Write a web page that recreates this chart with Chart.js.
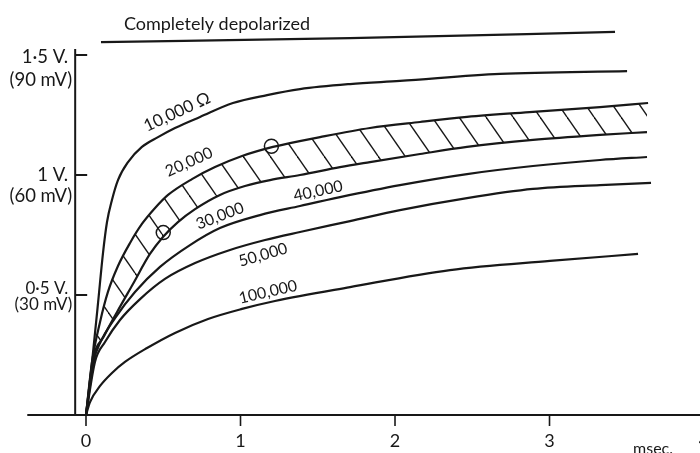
<!DOCTYPE html>
<html>
<head>
<meta charset="utf-8">
<script src="https://cdn.jsdelivr.net/npm/chart.js@4.4.1/dist/chart.umd.min.js"></script>
<style>
  html, body { margin: 0; padding: 0; background: #fff; }
  #wrap { width: 700px; height: 453px; position: relative; }
</style>
</head>
<body>
<div id="wrap"><canvas id="chartPolar"></canvas></div>
<script>
// Membrane potential vs time for different series resistances
const xTicks = [0, 1, 2, 3, 4];
const yTicks = [0.5, 1, 1.5];
const yTickVolt = ['0·5 V.', '1 V.', '1·5 V.'];
const yTickMilli = ['(30 mV)', '(60 mV)', '(90 mV)'];
const xUnit = 'msec.';

const curveNames = ['Completely depolarized', '10,000 Ω', '20,000', '30,000', '40,000', '50,000', '100,000'];

// [msec, volts]
const depolarized = [[0.097, 1.554], [1.709, 1.570], [3.424, 1.596]];
const r10k = [[0, 0], [0.019, 0.104], [0.045, 0.258], [0.078, 0.467], [0.110, 0.675], [0.136, 0.804],
  [0.168, 0.896], [0.207, 0.979], [0.272, 1.054], [0.362, 1.117], [0.466, 1.158], [0.576, 1.196],
  [0.738, 1.242], [0.951, 1.300], [1.172, 1.333], [1.385, 1.358], [1.709, 1.379], [2.032, 1.392],
  [2.680, 1.421], [3.502, 1.433]];
const r20k = [[0, 0], [0.039, 0.221], [0.091, 0.388], [0.142, 0.513], [0.207, 0.621], [0.285, 0.717],
  [0.362, 0.796], [0.447, 0.8625], [0.531, 0.917], [0.686, 0.983], [0.835, 1.033], [1.010, 1.079],
  [1.210, 1.117], [1.515, 1.158], [1.838, 1.196], [2.162, 1.221], [2.466, 1.242], [2.893, 1.263],
  [3.327, 1.283], [3.638, 1.300]];
const r30k = [[0, 0], [0.045, 0.229], [0.117, 0.329], [0.201, 0.429], [0.304, 0.546], [0.414, 0.671],
  [0.498, 0.742], [0.595, 0.804], [0.706, 0.858], [0.867, 0.917], [1.029, 0.954], [1.191, 0.979],
  [1.385, 1.0], [1.644, 1.033], [1.838, 1.054], [2.162, 1.0875], [2.466, 1.117], [2.893, 1.146],
  [3.327, 1.167], [3.631, 1.179]];
const r40k = [[0, 0], [0.052, 0.229], [0.091, 0.300], [0.188, 0.404], [0.317, 0.5125], [0.479, 0.617],
  [0.673, 0.708], [0.867, 0.779], [1.126, 0.833], [1.385, 0.871], [1.644, 0.908], [2.032, 0.958],
  [2.466, 1.004], [2.893, 1.0375], [3.327, 1.0625], [3.631, 1.075]];
const r50k = [[0, 0], [0.058, 0.221], [0.123, 0.304], [0.220, 0.396], [0.350, 0.483], [0.511, 0.567],
  [0.706, 0.633], [0.932, 0.6875], [1.159, 0.729], [1.385, 0.7625], [1.709, 0.808], [2.032, 0.854],
  [2.466, 0.904], [2.893, 0.942], [3.327, 0.958], [3.657, 0.967]];
const r100k = [[0, 0], [0.026, 0.054], [0.091, 0.121], [0.168, 0.175], [0.252, 0.221], [0.395, 0.279],
  [0.576, 0.342], [0.790, 0.400], [1.010, 0.442], [1.223, 0.475], [1.709, 0.533], [2.356, 0.604],
  [3.003, 0.642], [3.573, 0.671]];
const measured = [[0.5, 0.76], [1.2, 1.12]];

const INK = '#181818';
const FONT = 'Lato, "Open Sans", sans-serif';

const toXY = arr => arr.map(([x, y]) => ({ x, y }));

// diagonal hatching for the band between 20,000 and 30,000
function hatchPattern(ctx) {
  const tile = document.createElement('canvas');
  tile.width = 27; tile.height = 39;
  const c = tile.getContext('2d');
  c.strokeStyle = INK;
  c.lineWidth = 1.4;
  [-27, 0, 27].forEach(dx => {
    c.beginPath();
    c.moveTo(dx, 0);
    c.lineTo(dx + 27, 39);
    c.stroke();
  });
  return ctx.createPattern(tile, 'repeat');
}

function curve(data, extra) {
  return Object.assign({
    data: toXY(data),
    borderColor: INK,
    borderWidth: 2.2,
    pointRadius: 0,
    fill: false,
    cubicInterpolationMode: 'monotone'
  }, extra || {});
}

// where each curve name sits: [msec, volts, rotation deg, font px]
const labelSpots = [
  [0.848, 1.629, 0, 18],
  [0.589, 1.2625, -25, 17],
  [0.667, 1.054, -24, 16],
  [0.867, 0.829, -21, 16],
  [1.502, 0.933, -12, 16],
  [1.146, 0.667, -16, 16],
  [1.178, 0.5125, -13, 16]
];

const figureAxes = {
  id: 'figureAxes',
  afterDatasetsDraw(chart) {
    const { ctx, chartArea } = chart;
    const xs = chart.scales.x, ys = chart.scales.y;
    const px = v => xs.getPixelForValue(v);
    const py = v => ys.getPixelForValue(v);
    const yAxisAt = -0.07;

    ctx.save();
    ctx.strokeStyle = INK;
    ctx.fillStyle = INK;
    ctx.lineCap = 'butt';

    // axis lines
    ctx.lineWidth = 2;
    ctx.beginPath();
    ctx.moveTo(px(-0.38), py(0));
    ctx.lineTo(chartArea.right, py(0));
    ctx.moveTo(px(yAxisAt), py(1.525));
    ctx.lineTo(px(yAxisAt), py(0));
    ctx.stroke();

    // y ticks point inwards
    yTicks.forEach(v => {
      ctx.beginPath();
      ctx.moveTo(px(yAxisAt), py(v));
      ctx.lineTo(px(yAxisAt) + 12, py(v));
      ctx.stroke();
    });

    // x ticks hang below the axis
    ctx.lineWidth = 1.6;
    xTicks.forEach(v => {
      ctx.beginPath();
      ctx.moveTo(px(v), py(0));
      ctx.lineTo(px(v), py(0) + 11);
      ctx.stroke();
    });

    ctx.textAlign = 'center';
    ctx.textBaseline = 'middle';
    ctx.font = '18px ' + FONT;
    xTicks.forEach(v => ctx.fillText(String(v), px(v), py(0) + 26));

    ctx.font = '16px ' + FONT;
    ctx.textBaseline = 'alphabetic';
    ctx.fillText(xUnit, px(3.67), py(0) + 39);

    // two-line voltage labels, right aligned against the axis
    const lineOffsets = [[-6, 10], [0, 21], [2, 25]];
    const sizes = [17, 18.5, 18.5];
    ctx.textAlign = 'right';
    ctx.textBaseline = 'middle';
    yTicks.forEach((v, i) => {
      ctx.font = sizes[i] + 'px ' + FONT;
      ctx.fillText(yTickVolt[i], px(yAxisAt) - 7, py(v) + lineOffsets[i][0]);
      ctx.fillText(yTickMilli[i], px(yAxisAt) - 3, py(v) + lineOffsets[i][1]);
    });

    // curve names
    ctx.textAlign = 'center';
    curveNames.forEach((name, i) => {
      const [t, v, rot, size] = labelSpots[i];
      ctx.save();
      ctx.font = size + 'px ' + FONT;
      ctx.translate(px(t), py(v));
      ctx.rotate(rot * Math.PI / 180);
      ctx.fillText(name, 0, 0);
      ctx.restore();
    });
    ctx.restore();
  }
};

const canvas = document.getElementById('chartPolar');
const ctx2d = canvas.getContext('2d');

new Chart(ctx2d, {
  type: 'line',
  data: {
    datasets: [
      curve(depolarized),
      curve(r10k),
      curve(r20k, { fill: '+1', backgroundColor: hatchPattern(ctx2d) }),
      curve(r30k),
      curve(r40k),
      curve(r50k),
      curve(r100k),
      {
        data: toXY(measured),
        showLine: false,
        pointStyle: 'circle',
        pointRadius: 7,
        pointBorderWidth: 1.5,
        pointBorderColor: INK,
        pointBackgroundColor: 'rgba(0,0,0,0)'
      }
    ]
  },
  options: {
    responsive: true,
    maintainAspectRatio: false,
    animation: false,
    events: [],
    layout: { padding: 0, autoPadding: false },
    plugins: { legend: { display: false }, tooltip: { enabled: false } },
    scales: {
      x: { type: 'linear', display: false, min: -0.5566, max: 3.974 },
      y: { type: 'linear', display: false, min: -0.1583, max: 1.7292 }
    }
  },
  plugins: [figureAxes]
});
</script>
</body>
</html>
